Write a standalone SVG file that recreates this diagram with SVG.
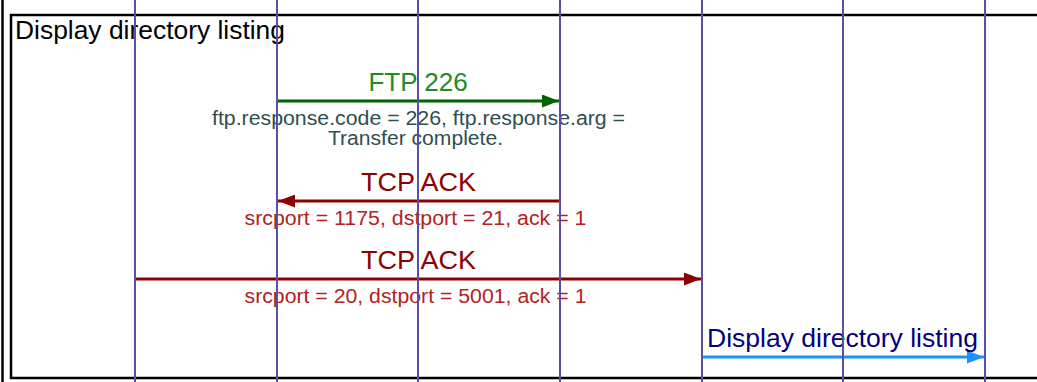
<svg xmlns="http://www.w3.org/2000/svg" width="1037" height="382" viewBox="0 0 1037 382">
  <style>
    text { font-family: "Liberation Sans", Arial, sans-serif; }
    .lbl { font-size: 26px; text-anchor: middle; }
    .sub { font-size: 20px; }
    .life { stroke: #5a4ea6; stroke-width: 2; }
    .frame { fill: none; stroke: #000; stroke-width: 2.5; }
  </style>
  <defs>
    <marker id="ahGreen" viewBox="0 0 17 13" refX="17" refY="6.5" markerWidth="17" markerHeight="13" markerUnits="userSpaceOnUse" orient="auto">
      <path d="M0,0 L17,6.5 L0,13 Z" fill="#006400"/>
    </marker>
    <marker id="ahRed" viewBox="0 0 17 13" refX="17" refY="6.5" markerWidth="17" markerHeight="13" markerUnits="userSpaceOnUse" orient="auto">
      <path d="M0,0 L17,6.5 L0,13 Z" fill="#8b0000"/>
    </marker>
    <marker id="ahBlue" viewBox="0 0 17 13" refX="17" refY="6.5" markerWidth="17" markerHeight="13" markerUnits="userSpaceOnUse" orient="auto">
      <path d="M0,0 L17,6.5 L0,13 Z" fill="#1e90ff"/>
    </marker>
  </defs>
  <rect width="1037" height="382" fill="#fff"/>
  <g id="frame">
    <line x1="2.5" y1="0" x2="2.5" y2="382" stroke="#000" stroke-width="2.5"/>
    <rect class="frame" x="11" y="15" width="1040" height="363"/>
    <text x="15" y="39" font-size="26" fill="#000" textLength="270" lengthAdjust="spacingAndGlyphs">Display directory listing</text>
  </g>
  <g id="connectors">
    <g id="msg-ftp226">
      <line x1="277" y1="101" x2="559" y2="101" stroke="#006400" stroke-width="3" marker-end="url(#ahGreen)"/>
      <text class="lbl" x="418" y="91" fill="#228b22">FTP 226</text>
      <text class="sub" x="212" y="125" fill="#2f4f4f" textLength="413" lengthAdjust="spacingAndGlyphs">ftp.response.code = 226, ftp.response.arg =</text>
      <text class="sub" x="328" y="145" fill="#2f4f4f" textLength="175" lengthAdjust="spacingAndGlyphs">Transfer complete.</text>
    </g>
    <g id="msg-tcpack1">
      <line x1="560" y1="201" x2="278" y2="201" stroke="#8b0000" stroke-width="3" marker-end="url(#ahRed)"/>
      <text class="lbl" x="418.5" y="191" fill="#8b0000" textLength="115" lengthAdjust="spacingAndGlyphs">TCP ACK</text>
      <text class="sub" x="244.5" y="225" fill="#b22222" textLength="342" lengthAdjust="spacingAndGlyphs">srcport = 1175, dstport = 21, ack = 1</text>
    </g>
    <g id="msg-tcpack2">
      <line x1="135" y1="279" x2="701" y2="279" stroke="#8b0000" stroke-width="3" marker-end="url(#ahRed)"/>
      <text class="lbl" x="418.5" y="269" fill="#8b0000" textLength="115" lengthAdjust="spacingAndGlyphs">TCP ACK</text>
      <text class="sub" x="244.5" y="303" fill="#b22222" textLength="342" lengthAdjust="spacingAndGlyphs">srcport = 20, dstport = 5001, ack = 1</text>
    </g>
    <g id="msg-display">
      <line x1="702" y1="357" x2="984" y2="357" stroke="#1e90ff" stroke-width="3" marker-end="url(#ahBlue)"/>
      <text class="lbl" x="842.5" y="347" fill="#000080" textLength="271" lengthAdjust="spacingAndGlyphs">Display directory listing</text>
    </g>
  </g>
  <g id="lifelines">
    <line id="ll1" class="life" x1="135" y1="0" x2="135" y2="382"/>
    <line id="ll2" class="life" x1="277" y1="0" x2="277" y2="382"/>
    <line id="ll3" class="life" x1="418" y1="0" x2="418" y2="382"/>
    <line id="ll4" class="life" x1="560" y1="0" x2="560" y2="382"/>
    <line id="ll5" class="life" x1="702" y1="0" x2="702" y2="382"/>
    <line id="ll6" class="life" x1="843" y1="0" x2="843" y2="382"/>
    <line id="ll7" class="life" x1="985" y1="0" x2="985" y2="382"/>
  </g>
</svg>
